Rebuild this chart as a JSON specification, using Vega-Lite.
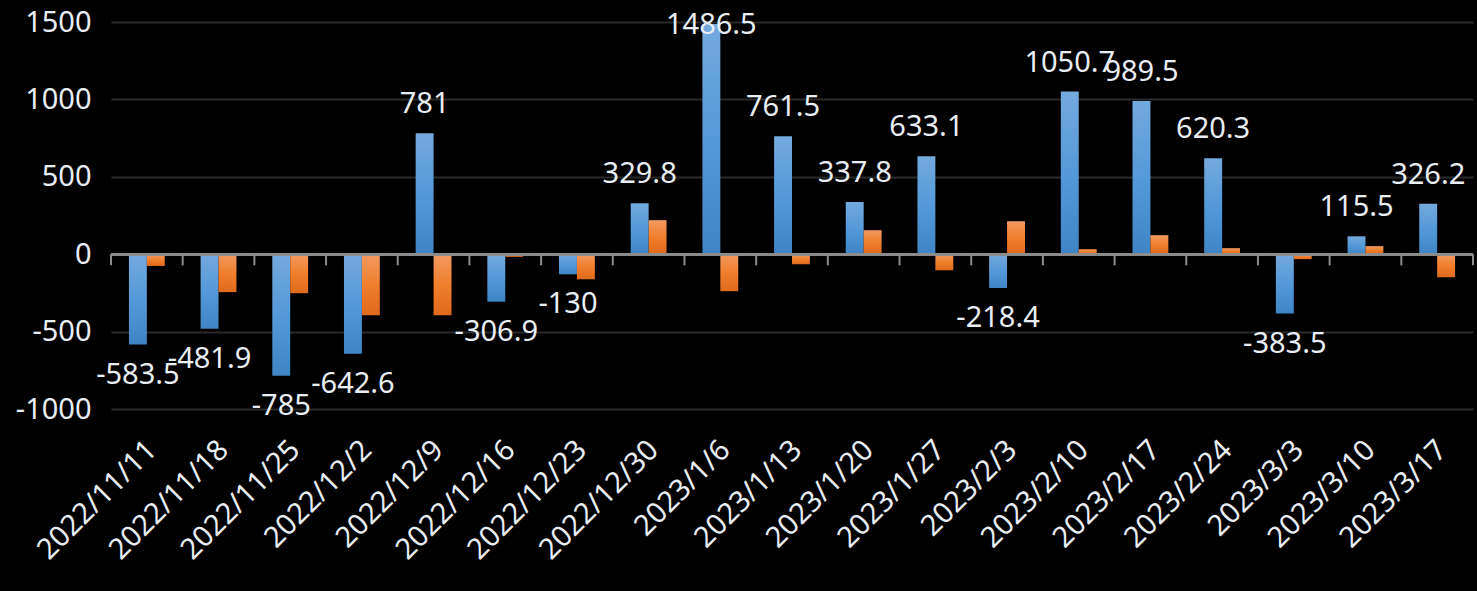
{
  "$schema": "https://vega.github.io/schema/vega-lite/v6.json",
  "width": 1362,
  "height": 387,
  "autosize": {"type": "none"},
  "padding": {"left": 111, "top": 22, "right": 4, "bottom": 182},
  "background": "#000000",
  "config": {"view": {"stroke": null}, "font": "Noto Sans"},
  "data": {
    "values": [
      {"date": "2022/11/11", "s": "A", "v": -583.5}, {"date": "2022/11/11", "s": "B", "v": -76},
      {"date": "2022/11/18", "s": "A", "v": -481.9}, {"date": "2022/11/18", "s": "B", "v": -245},
      {"date": "2022/11/25", "s": "A", "v": -785}, {"date": "2022/11/25", "s": "B", "v": -252},
      {"date": "2022/12/2", "s": "A", "v": -642.6}, {"date": "2022/12/2", "s": "B", "v": -394},
      {"date": "2022/12/9", "s": "A", "v": 781}, {"date": "2022/12/9", "s": "B", "v": -394},
      {"date": "2022/12/16", "s": "A", "v": -306.9}, {"date": "2022/12/16", "s": "B", "v": -17},
      {"date": "2022/12/23", "s": "A", "v": -130}, {"date": "2022/12/23", "s": "B", "v": -162},
      {"date": "2022/12/30", "s": "A", "v": 329.8}, {"date": "2022/12/30", "s": "B", "v": 220},
      {"date": "2023/1/6", "s": "A", "v": 1486.5}, {"date": "2023/1/6", "s": "B", "v": -239},
      {"date": "2023/1/13", "s": "A", "v": 761.5}, {"date": "2023/1/13", "s": "B", "v": -65},
      {"date": "2023/1/20", "s": "A", "v": 337.8}, {"date": "2023/1/20", "s": "B", "v": 155},
      {"date": "2023/1/27", "s": "A", "v": 633.1}, {"date": "2023/1/27", "s": "B", "v": -104},
      {"date": "2023/2/3", "s": "A", "v": -218.4}, {"date": "2023/2/3", "s": "B", "v": 213},
      {"date": "2023/2/10", "s": "A", "v": 1050.7}, {"date": "2023/2/10", "s": "B", "v": 32},
      {"date": "2023/2/17", "s": "A", "v": 989.5}, {"date": "2023/2/17", "s": "B", "v": 123},
      {"date": "2023/2/24", "s": "A", "v": 620.3}, {"date": "2023/2/24", "s": "B", "v": 39},
      {"date": "2023/3/3", "s": "A", "v": -383.5}, {"date": "2023/3/3", "s": "B", "v": -32},
      {"date": "2023/3/10", "s": "A", "v": 115.5}, {"date": "2023/3/10", "s": "B", "v": 52},
      {"date": "2023/3/17", "s": "A", "v": 326.2}, {"date": "2023/3/17", "s": "B", "v": -149}
    ]
  },
  "layer": [
    {
      "transform": [{"filter": "datum.s === 'A'"}],
      "mark": {
        "type": "bar",
        "color": {"gradient": "linear", "x1": 0, "y1": 0, "x2": 0, "y2": 1,
          "stops": [{"offset": 0, "color": "#74a9dd"}, {"offset": 0.5, "color": "#5499da"}, {"offset": 1, "color": "#3f84c4"}]}
      },
      "encoding": {
        "x": {"field": "date", "type": "ordinal", "sort": null,
          "scale": {"paddingInner": 0, "paddingOuter": 0},
          "axis": {"title": null, "labelAngle": -45, "labelAlign": "right", "labelBaseline": "middle",
            "domain": false, "ticks": false, "grid": false, "labelFontSize": 29, "labelColor": "#e8eef4",
            "labelPadding": 36, "labelOffset": 5, "labelOverlap": false, "labelBound": false, "labelLimit": 400}},
        "xOffset": {"field": "s", "type": "nominal", "scale": {"domain": ["A", "B"], "paddingInner": 0, "paddingOuter": 1.31}},
        "y": {"field": "v", "type": "quantitative",
          "scale": {"domain": [-1000, 1500], "nice": false, "zero": false},
          "axis": {"title": null, "values": [-1000, -500, 0, 500, 1000, 1500], "domain": false, "ticks": false,
            "labelExpr": "toString(datum.value)",
            "labelFontSize": 29, "labelColor": "#e8eef4", "labelPadding": 20,
            "gridColor": "#2a2a2a", "gridWidth": 2}}
      }
    },
    {
      "transform": [{"filter": "datum.s === 'B'"}],
      "mark": {
        "type": "bar",
        "color": {"gradient": "linear", "x1": 0, "y1": 0, "x2": 0, "y2": 1,
          "stops": [{"offset": 0, "color": "#f29a62"}, {"offset": 0.5, "color": "#f07f2c"}, {"offset": 1, "color": "#e0691b"}]}
      },
      "encoding": {
        "x": {"field": "date", "type": "ordinal", "sort": null},
        "xOffset": {"field": "s", "type": "nominal"},
        "y": {"field": "v", "type": "quantitative"}
      }
    },
    {
      "mark": {"type": "rule", "color": "#8c8c8c", "strokeWidth": 2},
      "encoding": {"y": {"datum": 0, "type": "quantitative"}}
    },
    {
      "transform": [{"filter": "datum.s === 'A'"}],
      "mark": {"type": "rule", "color": "#8c8c8c", "strokeWidth": 2},
      "encoding": {
        "x": {"field": "date", "type": "ordinal", "sort": null, "bandPosition": 0},
        "y": {"datum": 0, "type": "quantitative"},
        "y2": {"datum": -72}
      }
    },
    {
      "transform": [{"filter": "datum.s === 'A' && datum.date === '2023/3/17'"}],
      "mark": {"type": "rule", "color": "#8c8c8c", "strokeWidth": 2},
      "encoding": {
        "x": {"field": "date", "type": "ordinal", "sort": null, "bandPosition": 1},
        "y": {"datum": 0, "type": "quantitative"},
        "y2": {"datum": -72}
      }
    },
    {
      "transform": [{"filter": "datum.s === 'A' && datum.v > 0"}, {"calculate": "min(datum.v, 1294)", "as": "ly"}],
      "mark": {"type": "text", "fontSize": 29, "color": "#e8eef4", "baseline": "alphabetic", "dy": -20},
      "encoding": {
        "x": {"field": "date", "type": "ordinal", "sort": null},
        "xOffset": {"field": "s", "type": "nominal"},
        "y": {"field": "ly", "type": "quantitative"},
        "text": {"field": "v", "type": "nominal"}
      }
    },
    {
      "transform": [{"filter": "datum.s === 'A' && datum.v < 0"}],
      "mark": {"type": "text", "fontSize": 29, "color": "#e8eef4", "baseline": "alphabetic", "dy": 39},
      "encoding": {
        "x": {"field": "date", "type": "ordinal", "sort": null},
        "xOffset": {"field": "s", "type": "nominal"},
        "y": {"field": "v", "type": "quantitative"},
        "text": {"field": "v", "type": "nominal"}
      }
    }
  ]
}
